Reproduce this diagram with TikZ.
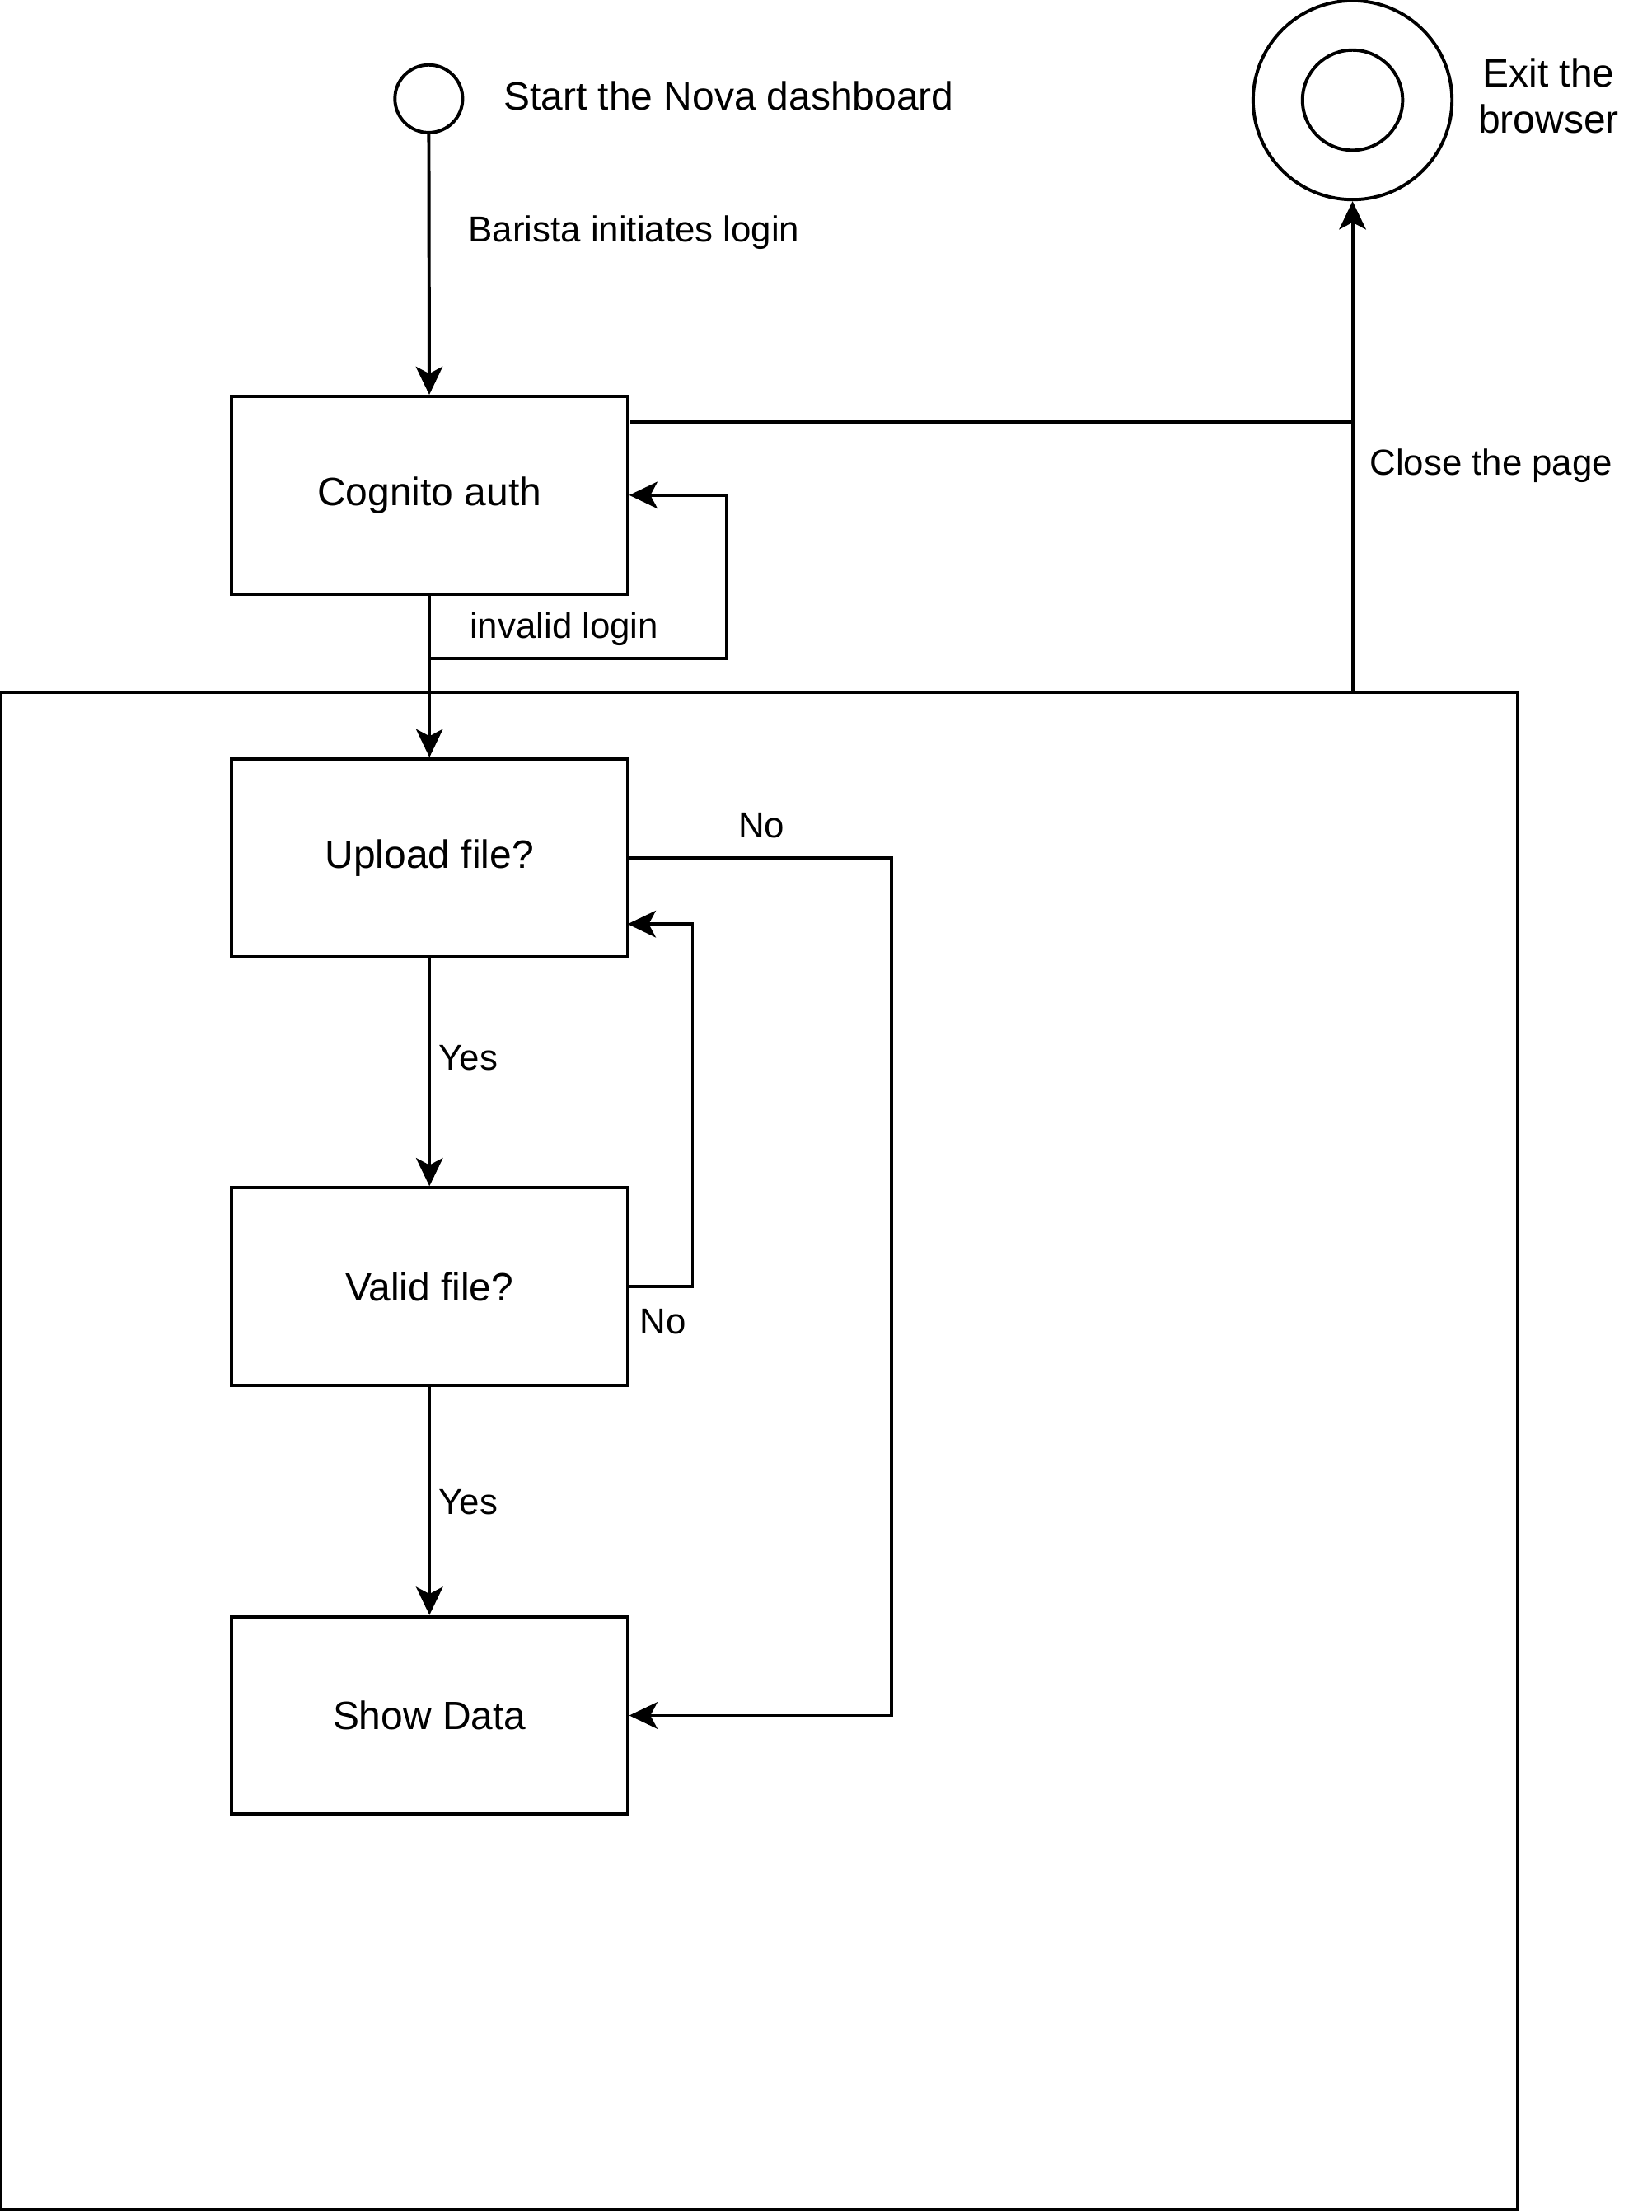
\documentclass[tikz,border=0pt]{standalone}
\usepackage{fontspec}
\setmainfont{Liberation Sans}
\usepackage{tikz}
\usetikzlibrary{arrows.meta}

\begin{document}
\begin{tikzpicture}[x=0.5pt, y=-0.5pt, line width=1.15pt,
  >={Stealth[length=10pt, width=9.5pt, inset=2.5pt]},
  every node/.style={font=\fontsize{14}{16.5}\selectfont},
  box/.style={draw, rectangle, minimum width=140.5pt, minimum height=70pt},
  endpoint/.style={draw, circle, inner sep=0pt},
  lbl/.style={inner sep=0pt},
  edgelbl/.style={inner sep=0pt, font=\fontsize{12.8}{15}\selectfont}]
\useasboundingbox (0,0) rectangle (1171,1568);
% states
\node[endpoint, minimum size=24pt] (start) at (304,70) {};
\node[lbl, anchor=west] (starttxt) at (356,68) {Start the Nova dashboard};
\node[endpoint, minimum size=70.5pt] (exit) at (959,71) {};
\node[endpoint, minimum size=35.5pt] (exitin) at (959,71) {};
\node[lbl, align=center] (exittxt) at (1098,68) {Exit the\\browser};
\node[box] (cognito) at (304.5,351) {Cognito auth};
\node[draw, rectangle, minimum width=538pt, minimum height=537.5pt] (frame) at (538,1028.5) {};
\node[box] (upload) at (304.5,608) {Upload file?};
\node[box] (valid) at (304.5,912) {Valid file?};
\node[box] (show) at (304.5,1216) {Show Data};
% transitions
\draw[->] (start) -- (cognito);
\node[edgelbl, anchor=west] (initlbl) at (331,165) {Barista initiates login};
\coordinate (leave) at (447,299);
\draw (leave) -- (leave -| exit);
\draw[->] (frame.north -| exit) -- (exit);
\node[edgelbl, anchor=west] (closelbl) at (970,330) {Close the page};
\draw[->] (cognito.south) -- (304.5,467) -- (515,467) |- (cognito.east);
\node[edgelbl] (invlbl) at (400,446) {invalid login};
\draw[->] (cognito) -- (upload);
\draw[->] (upload) -- (valid);
\node[edgelbl, anchor=west] (yes1) at (310,750) {Yes};
\draw[->] (valid) -- (show);
\node[edgelbl, anchor=west] (yes2) at (310,1065) {Yes};
\draw[->] (upload.east) -- (632,608) |- (show.east);
\node[edgelbl] (no1) at (540,585) {No};
\draw[->] (valid.east) -- (491,912) |- (445,655);
\node[edgelbl] (no2) at (470,937) {No};
\end{tikzpicture}
\end{document}
